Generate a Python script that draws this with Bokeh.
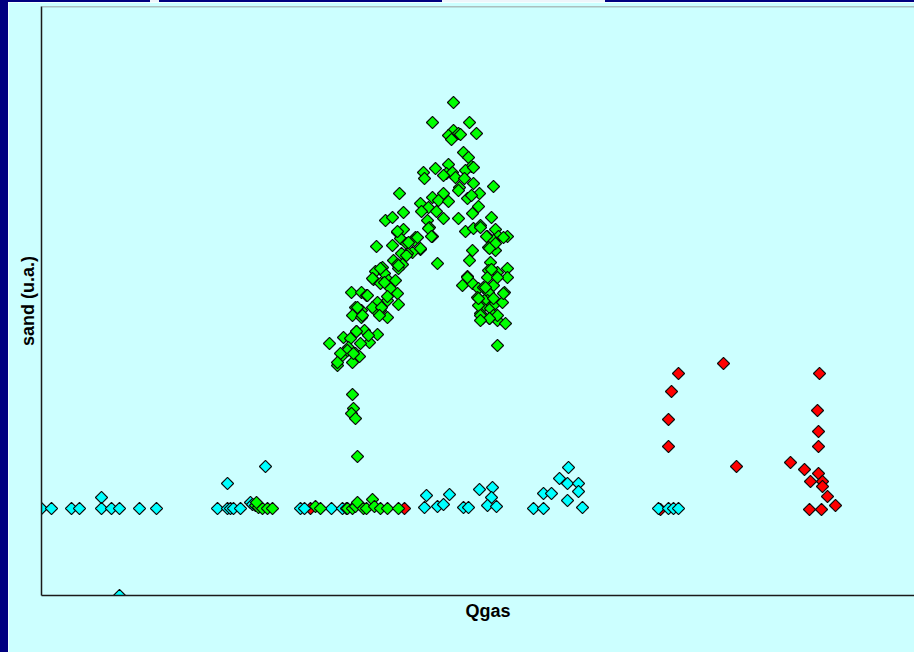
import math
from bokeh.plotting import figure
from bokeh.models import Range1d, Span, Title, Spacer, FixedTicker
from bokeh.layouts import column, row
from bokeh.embed import file_html
from bokeh.resources import INLINE

# Qgas / sand readings (arbitrary units), one pair of lists per group
cyan_qgas = [0.0, 1.0, 3.0, 3.8, 6.0, 6.0, 7.0, 7.8, 9.8, 11.5, 7.8,
             17.6, 18.6, 18.6, 18.9, 19.2, 19.9, 20.9, 21.1, 22.4,
             25.9, 26.3, 29.0, 30.1, 30.5,
             38.5, 38.3, 39.6, 40.2, 40.8, 42.2, 42.7, 43.8, 45.1, 45.0, 44.6, 45.5,
             49.2, 50.2, 50.2, 51.0, 51.8, 52.7, 52.6, 53.7, 53.7, 52.6, 54.1,
             61.7, 62.7, 63.2, 63.7]
cyan_sand = [0.0, 0.0, 0.0, 0.0, 1.1, 0.0, 0.0, 0.0, 0.0, 0.0, -8.7,
             0.0, 2.5, 0.0, 0.0, 0.0, 0.0, 0.6, 0.4, 4.2,
             0.0, 0.0, 0.0, 0.0, 0.0,
             1.3, 0.1, 0.2, 0.4, 1.4, 0.1, 0.1, 1.9, 2.1, 1.1, 0.3, 0.2,
             0.0, 0.0, 1.5, 1.5, 3.0, 4.1, 2.5, 2.5, 1.7, 0.8, 0.1,
             0.0, 0.0, 0.0, 0.0]

red_qgas = [26.9, 36.3, 61.9, 63.7, 63.0, 62.7, 62.7, 68.2, 69.5,
            77.8, 77.6, 77.7, 77.7, 74.9, 76.3, 77.7, 78.1, 78.1, 76.9,
            78.6, 79.4, 76.8, 78.0]
red_sand = [0.0, 0.0, -0.1, 13.5, 11.7, 8.9, 6.2, 14.5, 4.2,
            13.5, 9.8, 7.7, 6.2, 4.6, 3.9, 3.5, 2.7, 2.2, 2.7,
            1.2, 0.3, -0.1, -0.1]

green_qgas = [21.4, 21.7, 22.1, 22.6, 23.1, 21.5, 27.4, 27.9, 30.6, 31.1, 31.4, 31.6,
              32.2, 32.5, 33.1, 33.3, 33.9, 34.6, 35.7, 31.6, 31.1, 31.2, 31.0, 31.4,
              41.2, 39.1, 42.8, 41.2, 40.7, 41.0, 41.7, 41.9, 43.5, 42.2, 42.7, 43.0,
              42.4, 43.2, 40.7, 40.5, 41.1, 41.4, 40.2, 38.2, 38.3, 39.4, 42.3, 43.2,
              41.8, 41.7, 42.6, 43.8, 43.0, 45.2, 35.8, 37.9, 39.1, 40.2, 39.7, 40.7,
              38.7, 38.0, 39.5, 36.2, 34.4, 35.1, 40.2, 41.7, 43.1, 43.7, 45.0, 38.6,
              38.8, 39.1, 35.6, 36.2, 35.9, 36.5, 37.4, 37.3, 37.9, 37.1, 36.6, 36.0,
              42.4, 43.2, 43.9, 45.4, 44.6, 45.7, 46.6, 45.2, 46.2, 33.5, 35.1, 43.1,
              42.8, 44.7, 45.4, 39.6, 35.2, 35.6, 36.1, 35.7, 33.4, 33.2, 34.1, 34.3,
              33.9, 34.7, 35.4, 34.9, 44.9, 44.7, 45.6, 46.6, 46.6, 44.6, 42.1, 42.6,
              43.1, 43.7, 44.2, 45.2, 44.7, 44.6, 31.0, 32.0, 32.5, 35.6, 34.6, 33.6,
              33.9, 33.4, 34.6, 31.4, 32.0, 31.1, 32.0, 43.6, 44.3, 44.1, 44.9, 45.4,
              46.1, 46.3, 43.9, 45.2, 45.6, 46.4, 44.1, 44.8, 28.8, 30.2, 30.9, 31.5,
              32.3, 32.8, 33.6, 31.9, 30.7, 30.1, 30.6, 31.4, 31.8, 31.1, 29.6, 45.6,
              38.7, 39.0, 43.9, 44.5, 45.4, 44.8, 45.6, 44.4, 46.2, 45.2, 43.7, 45.6,
              43.9, 44.8, 43.9, 42.6, 43.7, 45.0,
              35.6, 37.6, 36.7, 37.9, 36.5, 35.7, 33.9, 33.1, 34.3, 34.6, 35.7, 32.6,
              33.1, 34.0, 33.8, 31.6, 32.1, 31.5, 32.7, 29.9, 31.2, 29.6]
green_sand = [0.3, 0.1, 0.0, 0.0, 0.0, 0.6, 0.2, 0.0, 0.0, 0.0, 0.2, 0.6,
              0.0, 0.0, 0.9, 0.2, 0.0, 0.0, 0.0, 5.2, 11.4, 10.0, 9.5, 9.0,
              40.6, 38.6, 38.6, 37.8, 37.3, 36.9, 37.5, 37.4, 37.5, 35.6, 35.1, 34.2,
              33.8, 34.1, 34.4, 33.5, 33.6, 33.1, 33.3, 33.6, 33.0, 34.0, 33.0, 32.5,
              32.1, 31.8, 31.0, 31.5, 31.3, 32.2, 31.5, 30.5, 31.1, 31.5, 30.8, 30.7,
              30.1, 29.7, 29.7, 29.6, 28.8, 29.1, 29.0, 29.0, 29.5, 30.2, 29.1, 28.8,
              28.1, 27.2, 27.6, 27.9, 27.0, 26.5, 27.1, 26.8, 25.9, 25.6, 25.5, 25.5,
              27.7, 28.0, 28.3, 27.9, 27.2, 27.2, 27.2, 26.8, 27.1, 26.2, 26.3, 25.8,
              24.8, 26.1, 25.8, 24.5, 24.8, 24.4, 24.4, 24.0, 23.7, 22.9, 24.1, 23.5,
              22.5, 22.8, 22.8, 22.0, 24.6, 23.8, 23.6, 24.0, 23.1, 23.1, 22.3, 23.2,
              22.5, 22.0, 22.1, 22.3, 21.6, 20.8, 21.6, 21.6, 21.3, 21.5, 20.8, 20.6,
              19.8, 19.8, 19.1, 20.1, 19.8, 19.3, 19.1, 21.1, 20.8, 20.1, 20.0, 20.5,
              20.6, 21.6, 19.5, 19.3, 18.8, 18.5, 19.0, 19.0, 16.5, 17.1, 17.0, 17.7,
              17.8, 16.6, 17.4, 16.5, 16.1, 15.3, 15.8, 15.5, 15.2, 14.6, 14.3, 16.3,
              28.0, 27.2, 28.1, 27.2, 26.5, 26.0, 23.1, 22.1, 21.5, 21.0, 20.3, 19.3,
              19.3, 19.0, 18.8, 23.1, 21.0, 23.9,
              27.7, 27.1, 26.6, 26.0, 25.3, 24.3, 24.0, 23.0, 22.6, 21.2, 20.4, 21.3,
              20.1, 20.1, 19.3, 20.1, 19.3, 17.7, 17.3, 15.5, 15.5, 14.6]

QGAS_MIN, QGAS_MAX = 0.0, 87.3
SAND_MIN, SAND_MAX = -8.7, 50.2

BG = "#CCFFFF"
NAVY = "#000080"

p = figure(width=906, height=650, output_backend="svg", toolbar_location=None,
           x_range=Range1d(QGAS_MIN, QGAS_MAX), y_range=Range1d(SAND_MIN, SAND_MAX),
           min_border_left=33, min_border_right=0, min_border_top=4, min_border_bottom=57)
p.background_fill_color = BG
p.border_fill_color = BG
p.outline_line_color = None
p.grid.visible = False

# bare axes: a line only, no ticks or tick labels
for ax in (p.xaxis[0], p.yaxis[0]):
    ax.ticker = FixedTicker(ticks=[])
    ax.axis_line_color = "#1a1a1a"
    ax.axis_line_width = 1.5
    ax.major_tick_line_color = None
    ax.minor_tick_line_color = None
    ax.major_label_standoff = 0
    ax.major_tick_out = 0

p.yaxis.axis_label = "sand (u.a.)"
p.yaxis.axis_label_text_font = "Liberation Sans"
p.yaxis.axis_label_text_font_style = "bold"
p.yaxis.axis_label_text_font_size = "18px"
p.yaxis.axis_label_text_color = "black"
p.yaxis.axis_label_standoff = 4

# grey frame edge along the top
p.add_layout(Span(location=SAND_MAX, dimension="width", line_color="#808080", line_width=1.5))

# x-axis caption, placed by a left offset from the frame edge
p.add_layout(Title(text="Qgas", align="left", offset=424, standoff=7,
                   text_font="Liberation Sans", text_font_style="bold", text_font_size="18px",
                   text_color="black"), "below")

common = dict(marker="square", angle=math.pi / 4, size=8.6, line_color="#0a0a0a", line_width=1.1)
p.scatter(red_qgas, red_sand, fill_color="#FF0000", **common)
p.scatter(cyan_qgas, cyan_sand, fill_color="#00FFFF", **common)
p.scatter(green_qgas, green_sand, fill_color="#00FF00", **common)

top_strip = row(
    Spacer(width=150, height=2, styles={"background-color": NAVY}),
    Spacer(width=9, height=2, styles={"background-color": "#EEF4FA"}),
    Spacer(width=283, height=2, styles={"background-color": NAVY}),
    Spacer(width=163, height=2, styles={"background-color": "#EEF4FA"}),
    Spacer(width=309, height=2, styles={"background-color": NAVY}),
)
side_bar = Spacer(width=8, height=650, styles={"background-color": NAVY})
layout = column(top_strip, row(side_bar, p))

with open("out.html", "w") as f:
    f.write(file_html(layout, INLINE))
